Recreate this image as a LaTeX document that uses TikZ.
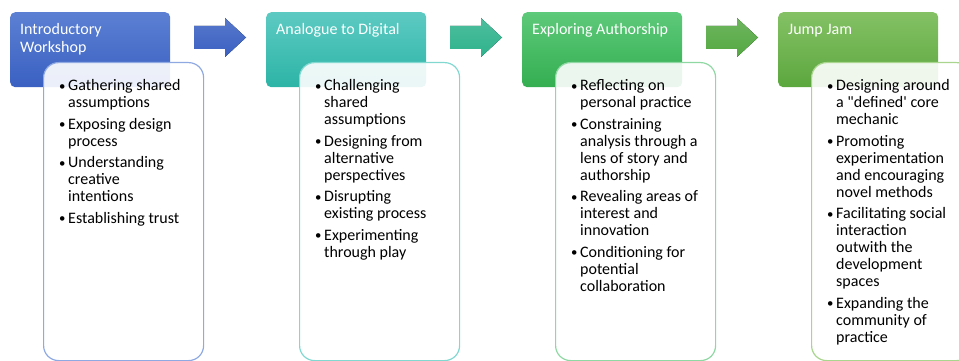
\documentclass[tikz,border=0pt]{standalone}
\usepackage{fontspec}
\setmainfont{Carlito}
\newfontfamily\rawfont{Carlito}

\definecolor{blueTop}{HTML}{5B80D3}
\definecolor{blueBot}{HTML}{3A60C2}
\definecolor{blueLine}{HTML}{8FA9E3}
\definecolor{tealTop}{HTML}{5DCAC2}
\definecolor{tealBot}{HTML}{2CB4A6}
\definecolor{tealLine}{HTML}{80D8D1}
\definecolor{greenTop}{HTML}{5DC97A}
\definecolor{greenBot}{HTML}{34AE51}
\definecolor{greenLine}{HTML}{90D8A3}
\definecolor{oliveTop}{HTML}{84C165}
\definecolor{oliveBot}{HTML}{5CA73E}
\definecolor{oliveLine}{HTML}{A9D58E}

% one bullet point with hanging lines
\newcommand\pitem[1]{\par\hangindent=9pt\hangafter=1\noindent
  \makebox[9pt][l]{\raisebox{0.6pt}{\scalebox{0.8}{\textbullet}}}#1\par}
\newcommand\plist[1]{\parbox[t]{140pt}{\raggedright\let\\\newline
  \fontsize{16}{17}\selectfont\setlength\parskip{4.5pt}#1}}
\newcommand\ptitle[1]{\parbox[t]{150pt}{\raggedright\fontsize{16}{18}\selectfont #1}}

\tikzset{
  headbox/.style={rounded corners=5pt, minimum width=160pt, minimum height=75pt, inner sep=0pt, anchor=north west},
  headtext/.style={text=white, anchor=base west, inner sep=0pt},
  bodybox/.style={rounded corners=15pt, draw=#1, line width=1.2pt, fill=white, fill opacity=0.9, minimum width=160pt, minimum height=298pt, inner sep=0pt, anchor=north west},
  bodytext/.style={anchor=base west, inner sep=0pt},
  blockarrow/.style={draw=none, top color=#1!85!white, bottom color=#1}
}

\begin{document}
\begin{tikzpicture}[x=1pt, y=-1pt]
  \useasboundingbox (0,0) rectangle (959,361);

  % headers
  \node[headbox, top color=blueTop, bottom color=blueBot] (head1) at (10,12) {};
  \node[headbox, top color=tealTop, bottom color=tealBot] (head2) at (266,12) {};
  \node[headbox, top color=greenTop, bottom color=greenBot] (head3) at (522,12) {};
  \node[headbox, top color=oliveTop, bottom color=oliveBot] (head4) at (778,12) {};

  \node[headtext] (title1) at ([xshift=10pt, yshift=-23pt]head1.north west) {\ptitle{Introductory\\Workshop}};
  \node[headtext] (title2) at ([xshift=10pt, yshift=-23pt]head2.north west) {\ptitle{Analogue to Digital}};
  \node[headtext] (title3) at ([xshift=10pt, yshift=-23pt]head3.north west) {\ptitle{Exploring Authorship}};
  \node[headtext] (title4) at ([xshift=10pt, yshift=-23pt]head4.north west) {\ptitle{Jump Jam}};

  % block arrows
  \foreach \ax/\col in {194/blueBot, 450/tealBot!70!greenBot, 706/oliveBot!80!greenBot} {
    \fill[blockarrow=\col] (\ax,26) -- (\ax+31,26) -- (\ax+31,18) -- (\ax+52,37.5)
      -- (\ax+31,57) -- (\ax+31,49) -- (\ax,49) -- cycle;
  }

  % bodies
  \node[bodybox=blueLine] (body1) at (43,62) {};
  \node[bodybox=tealLine] (body2) at (299,62) {};
  \node[bodybox=greenLine] (body3) at (555,62) {};
  \node[bodybox=oliveLine] (body4) at (811,62) {};

  \node[bodytext] (list1) at ([xshift=16pt, yshift=-29pt]body1.north west) {\plist{%
    \pitem{Gathering shared\\assumptions}
    \pitem{Exposing design\\process}
    \pitem{Understanding\\creative\\intentions}
    \pitem{Establishing trust}}};
  \node[bodytext] (list2) at ([xshift=16pt, yshift=-29pt]body2.north west) {\plist{%
    \pitem{Challenging\\shared\\assumptions}
    \pitem{Designing from\\alternative\\perspectives}
    \pitem{Disrupting\\existing process}
    \pitem{Experimenting\\through play}}};
  \node[bodytext] (list3) at ([xshift=16pt, yshift=-29pt]body3.north west) {\plist{%
    \pitem{Reflecting on\\personal practice}
    \pitem{Constraining\\analysis through a\\lens of story and\\authorship}
    \pitem{Revealing areas of\\interest and\\innovation}
    \pitem{Conditioning for\\potential\\collaboration}}};
  \node[bodytext] (list4) at ([xshift=16pt, yshift=-29pt]body4.north west) {\plist{%
    \pitem{Designing around\\a {\rawfont "defined'} core\\mechanic}
    \pitem{Promoting\\experimentation\\and encouraging\\novel methods}
    \pitem{Facilitating social\\interaction\\outwith the\\development\\spaces}
    \pitem{Expanding the\\community of\\practice}}};
\end{tikzpicture}
\end{document}
